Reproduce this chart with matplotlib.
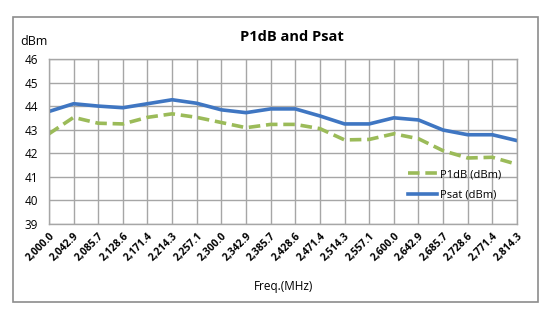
import matplotlib
matplotlib.use("Agg")
from matplotlib import pyplot as plt
from matplotlib.patches import Rectangle

freq = [2000.0, 2042.9, 2085.7, 2128.6, 2171.4, 2214.3, 2257.1, 2300.0, 2342.9, 2385.7,
        2428.6, 2471.4, 2514.3, 2557.1, 2600.0, 2642.9, 2685.7, 2728.6, 2771.4, 2814.3]
p1db = [42.82, 43.52, 43.27, 43.24, 43.52, 43.67, 43.52, 43.30, 43.08, 43.22,
        43.22, 43.04, 42.56, 42.58, 42.82, 42.61, 42.10, 41.79, 41.82, 41.52]
psat = [43.77, 44.10, 44.00, 43.93, 44.10, 44.27, 44.12, 43.84, 43.72, 43.88,
        43.88, 43.58, 43.24, 43.24, 43.50, 43.41, 42.98, 42.78, 42.78, 42.53]
yticks = [39, 40, 41, 42, 43, 44, 45, 46]

grid_c = '#a6a6a6'
plt.rcParams['font.family'] = ['Open Sans', 'DejaVu Sans']

fig = plt.figure(figsize=(5.5, 3.23), dpi=100)
fig.patches.append(Rectangle((0.0236, 0.065), 0.9545, 0.882, transform=fig.transFigure,
                             fill=False, edgecolor='#8c8c8c', linewidth=1.2))
ax = fig.add_axes([0.089, 0.308, 0.851, 0.509])

ax.plot(freq, p1db, color='#9bbb59', linewidth=2.6, dashes=(3.2, 1.6), label='P1dB (dBm)')
ax.plot(freq, psat, color='#3f76c2', linewidth=2.6, label='Psat (dBm)')

ax.set_xlim(freq[0], freq[-1])
ax.set_ylim(39, 46)
ax.set_yticks(yticks)
ax.set_xticks(freq)
ax.set_xticklabels([f"{f:,.1f}" for f in freq], rotation=45, ha='right', va='top',
                   rotation_mode='anchor', fontsize=7.4, fontweight='bold')
ax.tick_params(axis='y', labelsize=8.5, length=0, pad=8)
ax.tick_params(axis='x', length=0, pad=5)
ax.grid(True, color=grid_c, linewidth=1)
for s in ax.spines.values():
    s.set_color(grid_c)
    s.set_linewidth(1)

fig.text(0.53, 0.885, 'P1dB and Psat', ha='center', va='center', fontsize=10.5, fontweight='bold')
fig.text(0.036, 0.87, 'dBm', ha='left', va='center', fontsize=9)
fig.text(0.515, 0.112, 'Freq.(MHz)', ha='center', va='center', fontsize=8.5)

ax.legend(loc='center left', bbox_to_anchor=(0.755, 0.235), frameon=False, fontsize=8,
          handlelength=2.6, handletextpad=0.3, labelspacing=0.85, borderpad=0)

fig.savefig('out.png', dpi=100)
